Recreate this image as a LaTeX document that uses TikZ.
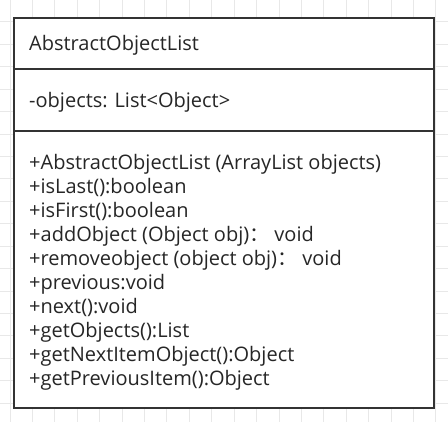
\documentclass[tikz,border=0pt]{standalone}
\usepackage{fontspec}
\setmainfont{Open Sans}
\newfontfamily\cjk{Noto Sans CJK SC}
\usetikzlibrary{positioning}

\newcommand{\fwcolon}{{\cjk ：}}

\tikzset{
  gridline/.style={draw=black!9, line width=1pt},
  classbox/.style={draw=black!80, line width=2.5pt},
  member/.style={anchor=base west, inner sep=0pt, text=black!85,
    font=\fontsize{20}{24}\selectfont},
}

\begin{document}
\begin{tikzpicture}[x=1pt,y=-1pt]
\fill[white] (0,0) rectangle (448,422);
\useasboundingbox (0,0) rectangle (448,422);
% background grid
\foreach \i in {0,...,19}
  \draw[gridline] (10+22.42*\i,0) -- (10+22.42*\i,422);
\foreach \j in {0,...,17}
  \draw[gridline] (0,22+22.42*\j) -- (448,22+22.42*\j);
% class box
\draw[classbox,fill=white] (14,18) rectangle (434,408);
\coordinate (d1l) at (14,69);
\coordinate (d1r) at (434,69);
\coordinate (d2l) at (14,131);
\coordinate (d2r) at (434,131);
\draw[classbox] (d1l) -- (d1r);
\draw[classbox] (d2l) -- (d2r);
\node[member] (name) at (29,51) {AbstractObjectList};
\node[member] (attr) at (29,108) {-objects: List<Object>};
\foreach \txt [count=\i from 0] in {
  {+AbstractObjectList (ArrayList objects)},
  {+isLast():boolean},
  {+isFirst():boolean},
  {+addObject (Object obj)\fwcolon\ void},
  {+removeobject (object obj)\fwcolon\ void},
  {+previous:void},
  {+next():void},
  {+getObjects():List},
  {+getNextItemObject():Object},
  {+getPreviousItem():Object}}
  \node[member] (m\i) at (29,170+24*\i) {\txt};
\end{tikzpicture}
\end{document}
